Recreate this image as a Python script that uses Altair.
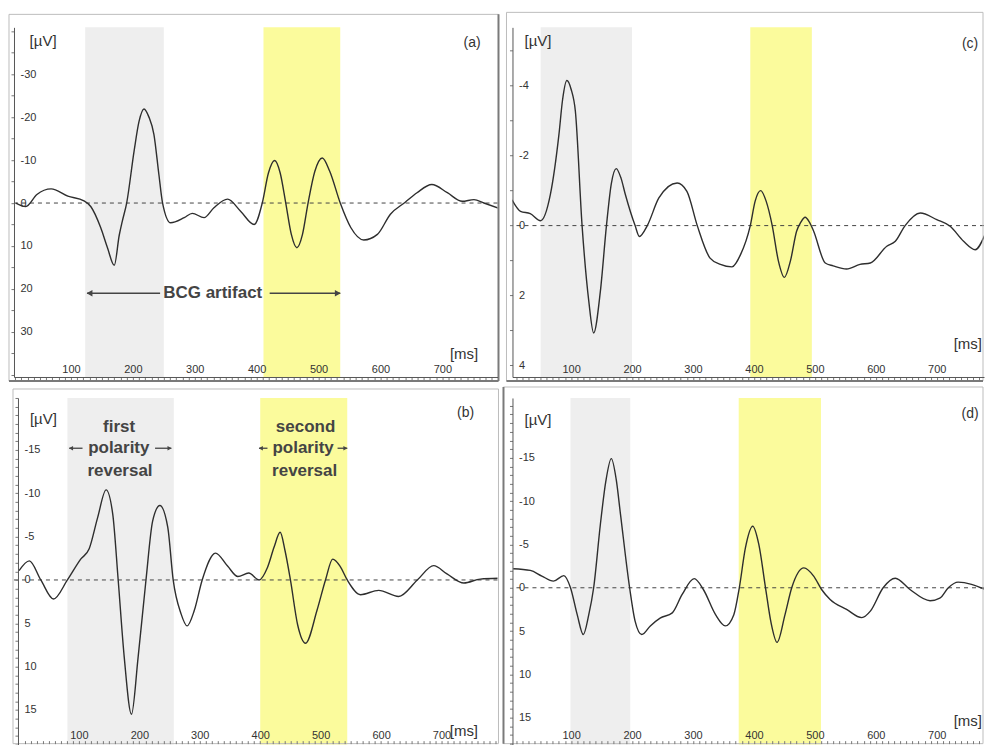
import altair as alt
import pandas as pd

# ---------------- averaged waveforms: latency [ms] / amplitude [µV] ----------------
a_ms = [11, 27, 45, 68, 95, 121, 132, 148, 159, 170, 178, 183, 190, 202, 210, 218, 226, 234, 242, 248,
        261, 283, 296, 315, 331, 353, 374, 396, 409, 419, 429, 438, 447, 456, 465, 474, 483, 494, 506, 518,
        535, 552, 573, 595, 616, 640, 659, 683, 708, 732, 751, 767, 791]
a_uv = [0, 0.8, -2.0, -3.3, -1.6, -0.5, 0.8, 5.7, 10.4, 14.5, 7.5, 4.2, 0, -12.1, -19, -21.9, -20, -16, -6.7, 0,
        4.6, 3.4, 2.4, 3.4, 1.1, -0.9, 1.9, 5.0, 0, -7, -9.9, -7, 0, 7.3, 10.4, 7.3, 0, -7.4, -10.5, -7.4,
        0, 5.7, 8.6, 7.3, 2.6, -0.2, -2.4, -4.3, -2.4, -0.4, -0.8, 0, 1.2]

c_ms = [3, 17, 33, 50, 66, 80, 86, 93, 100, 107, 118, 129, 137, 148, 158, 166, 174, 182, 189, 205,
        212, 225, 244, 274, 290, 307, 328, 345, 364, 378, 394, 402, 411, 420, 430, 440, 450, 460, 470, 477,
        484, 491, 498, 517, 530, 552, 574, 591, 618, 632, 648, 673, 700, 722, 744, 763, 779]
c_uv = [-0.74, -0.41, -0.34, -0.14, -0.89, -2.6, -3.6, -4.15, -3.9, -3.27, 0, 2.16, 3.07, 1.88, 0, -1.2, -1.63, -1.35, -0.89, 0,
        0.31, 0, -0.79, -1.22, -0.98, 0, 0.93, 1.11, 1.18, 0.83, 0, -0.7, -1.0, -0.7, 0, 1.0, 1.48, 1.0, 0.16, -0.1,
        -0.24, -0.1, 0.16, 1.07, 1.15, 1.24, 1.11, 1.07, 0.59, 0.45, 0, -0.36, -0.17, 0.02, 0.45, 0.69, 0.26]

b_ms = [1, 18, 37, 58, 81, 103, 117, 131, 145, 156, 165, 175, 187, 198, 211, 222, 234, 247, 256, 269,
        279, 291, 304, 326, 346, 363, 381, 398, 412, 423, 433, 441, 450, 462, 475, 494, 508, 520, 532, 544,
        566, 596, 629, 660, 687, 709, 737, 764, 797]
b_uv = [-1.07, -2.2, 0, 2.2, 0, -2.4, -3.6, -7.2, -10.4, -7.6, 0, 8.9, 15.5, 8.9, 0, -6.8, -8.6, -6.1, 0, 3.9,
        5.3, 3.5, 0, -3.1, -1.6, -0.4, -0.8, 0, -1.45, -3.8, -5.5, -3.4, 0, 5.2, 7.3, 3.5, 0, -2.4, -1.6, 0,
        1.7, 1.2, 1.9, 0, -1.65, -0.7, 0.35, -0.1, -0.2]

d_ms = [5, 33, 52, 71, 88, 99, 110, 120, 129, 137, 148, 157, 166, 174, 181, 196, 205, 216, 230, 246,
        266, 282, 302, 317, 337, 353, 367, 376, 386, 398, 408, 419, 428, 438, 451, 462, 482, 498, 511, 525,
        552, 577, 591, 612, 632, 656, 689, 705, 719, 735, 757, 779]
d_uv = [-2.2, -2.0, -1.35, -0.77, -1.4, 0, 3.1, 5.4, 3.1, 0, -7.3, -12.3, -14.9, -12.5, -8.5, 0, 3.85, 5.4, 4.4, 3.5,
        2.9, 0.8, -1.05, 0.2, 3.1, 4.4, 3.1, 0, -4.6, -7.1, -5.0, 0, 4.0, 6.3, 3.1, 0, -2.3, -1.35, 0.2, 1.35,
        2.5, 3.45, 2.7, 0, -1.1, 0.2, 1.5, 1.2, 0, -0.65, -0.4, 0.2]

# shaded latency windows [start, end] in ms: first / second polarity reversal
a_windows = [[123, 250], [411, 535]]
c_windows = [[50, 200], [394, 495]]
b_windows = [[81, 257], [400, 544]]
d_windows = [[99, 197], [375, 510]]

FONT = "Liberation Sans"
INK = "#2e2e2e"
GRAY_BAND = "#eeeeee"
YELLOW_BAND = "#fbfb9c"
FRAME = "#bdbdbd"
FRAME_DARK = "#7a7a7a"

COL_W = [484, 472]
ROW_H = [350, 347]


def x_axis(dom, offset, label_pad, domain_line):
    vals = [v for v in range(10, 800, 10) if dom[0] <= v <= dom[1]]
    return alt.Axis(
        values=vals,
        labelExpr="datum.value % 100 === 0 ? '' + datum.value : ''",
        title=None, grid=False, domain=domain_line, domainColor="#555555",
        tickColor="#777777", tickSize=3, offset=offset, zindex=1,
        labelPadding=label_pad, labelBaseline="middle", labelAlign="center",
        labelFont=FONT, labelFontSize=11, labelColor="#333333",
        labelFlush=False, labelOverlap=False,
    )


def y_axis(vals, every, limit, offset):
    return alt.Axis(
        values=vals,
        labelExpr=f"datum.value % {every} === 0 && abs(datum.value) <= {limit} ? '' + datum.value : ''",
        title=None, grid=False, domainColor="#555555", tickColor="#777777",
        tickSize=3, offset=offset, zindex=1, labelPadding=-9, labelAlign="left",
        labelBaseline="middle", labelFont=FONT, labelFontSize=11,
        labelColor="#333333", labelFlush=False, labelOverlap=False,
    )


def one_row():
    return pd.DataFrame({"k": [0]})


def panel(p):
    W, H = p["size"]
    xs = alt.Scale(domain=p["xdom"], nice=False, zero=False)
    ys = alt.Scale(domain=p["ydom"], nice=False, zero=False, reverse=True)
    ax = x_axis(p["xdom"], p["xoff"], p["xpad"], p["xline"])
    ay = y_axis(p["yvals"], p["yevery"], p["ylimit"], p["yoff"])

    def X(field):
        return alt.X(field, scale=xs, axis=ax)

    def Y(field):
        return alt.Y(field, scale=ys, axis=ay)

    win = pd.DataFrame({
        "start": [w[0] for w in p["windows"]],
        "end": [w[1] for w in p["windows"]],
        "kind": ["first", "second"],
    })
    bands = alt.Chart(win).mark_rect().encode(
        x=X("start:Q"),
        x2="end:Q",
        color=alt.Color("kind:N", scale=alt.Scale(domain=["first", "second"],
                                                   range=[GRAY_BAND, YELLOW_BAND]), legend=None),
    )

    zero = alt.Chart(pd.DataFrame({"uv": [0]})).mark_rule(
        color="#444444", strokeDash=[4, 4], strokeWidth=1
    ).encode(y=Y("uv:Q"))

    wave = alt.Chart(pd.DataFrame({"ms": p["ms"], "uv": p["uv"]})).mark_line(
        interpolate="monotone", color=INK, strokeWidth=1.4, clip=True
    ).encode(x=X("ms:Q"), y=Y("uv:Q"))

    small = alt.Chart(pd.DataFrame(p["notes"], columns=["ms", "uv", "txt", "fs"])).mark_text(
        font=FONT, color="#333333", baseline="middle", align="center"
    ).encode(
        x=X("ms:Q"), y=Y("uv:Q"),
        text="txt:N",
        size=alt.Size("fs:Q", scale=None, legend=None),
    )

    fl, fr, ft, fb = p["frame"]
    frame = alt.Chart(one_row()).mark_rect(
        fillOpacity=0, stroke=FRAME, strokeWidth=1
    ).encode(x=alt.value(fl), x2=alt.value(W + fr), y=alt.value(ft), y2=alt.value(H + fb))

    layers = [bands, zero, wave, small, frame]

    for edge in p["dark"]:
        if edge == "right":
            e = alt.Chart(one_row()).mark_rule(color=FRAME_DARK, strokeWidth=2).encode(
                x=alt.value(W + fr), y=alt.value(ft), y2=alt.value(H + fb))
        elif edge == "left":
            e = alt.Chart(one_row()).mark_rule(color=FRAME_DARK, strokeWidth=2).encode(
                x=alt.value(fl), y=alt.value(ft), y2=alt.value(H + fb))
        else:
            e = alt.Chart(one_row()).mark_rule(color=FRAME_DARK, strokeWidth=2).encode(
                x=alt.value(fl), x2=alt.value(W + fr), y=alt.value(H + fb))
        layers.append(e)

    if p.get("bold"):
        bold = alt.Chart(pd.DataFrame(p["bold"], columns=["ms", "uv", "txt"])).mark_text(
            font=FONT, fontSize=17, fontWeight="bold", color="#444444",
            baseline="middle", align="center"
        ).encode(x=X("ms:Q"), y=Y("uv:Q"), text="txt:N")
        shafts = alt.Chart(pd.DataFrame(p["shafts"], columns=["ms", "ms2", "uv"])).mark_rule(
            color="#444444", strokeWidth=1.3
        ).encode(x=X("ms:Q"), x2="ms2:Q", y=Y("uv:Q"))
        heads = alt.Chart(pd.DataFrame(p["heads"], columns=["ms", "uv", "dir"])).mark_point(
            filled=True, color="#444444", opacity=1, size=p["head_size"]
        ).encode(
            x=X("ms:Q"), y=Y("uv:Q"),
            shape=alt.Shape("dir:N", scale=alt.Scale(domain=["left", "right"],
                                                    range=["triangle-left", "triangle-right"]),
                            legend=None),
        )
        layers += [shafts, heads, bold]

    return alt.layer(*layers).properties(width=W, height=H)


panel_a = panel({
    "size": (COL_W[0], ROW_H[0]), "ms": a_ms, "uv": a_uv, "windows": a_windows,
    "xdom": [8, 789], "ydom": [-40.9, 40.5],
    "xoff": 0, "xpad": -11, "xline": True,
    "yvals": list(range(-40, 41, 5)), "yevery": 10, "ylimit": 30, "yoff": 0,
    "notes": [[55, -37.7, "[µV]", 15], [748, -37.2, "(a)", 14], [735, 35.1, "[ms]", 15]],
    "frame": (-5, 1, -13, 4), "dark": ["right", "bottom"],
    "bold": [[329, 20.9, "BCG artifact"]],
    "shafts": [[126, 244, 21.0], [421, 535, 21.0]],
    "heads": [[130, 21.0, "left"], [531, 21.0, "right"]], "head_size": 45,
})

panel_c = panel({
    "size": (COL_W[1], ROW_H[0]), "ms": c_ms, "uv": c_uv, "windows": c_windows,
    "xdom": [3.8, 777.5], "ydom": [-5.67, 4.33],
    "xoff": 0, "xpad": -11, "xline": True,
    "yvals": list(range(-5, 5)), "yevery": 2, "ylimit": 4, "yoff": 0,
    "notes": [[45.6, -5.27, "[µV]", 15], [754.6, -5.19, "(c)", 14], [751, 3.4, "[ms]", 15]],
    "frame": (-6, -1, -15, 4), "dark": ["bottom"],
})

panel_b = panel({
    "size": (COL_W[0], ROW_H[1]), "ms": b_ms, "uv": b_uv, "windows": b_windows,
    "xdom": [-7.4, 792.6], "ydom": [-21.0, 19.0],
    "xoff": -4, "xpad": -8, "xline": False,
    "yvals": list(range(-21, 20)), "yevery": 5, "ylimit": 15, "yoff": -4,
    "notes": [[41.3, -18.6, "[µV]", 15], [739.7, -19.3, "(b)", 14], [737, 17.4, "[ms]", 15]],
    "frame": (-1, 1, -9, -1), "dark": [],
    "bold": [[166.6, -17.6, "first"], [166, -15.2, "polarity"], [168, -12.6, "reversal"],
             [475, -17.6, "second"], [471, -15.2, "polarity"], [473.5, -12.6, "reversal"]],
    "shafts": [[84, 106, -15.2], [226, 253, -15.2], [398, 412, -15.2], [528, 544, -15.2]],
    "heads": [[87, -15.2, "left"], [250, -15.2, "right"], [401, -15.2, "left"], [541, -15.2, "right"]],
    "head_size": 22,
})

panel_d = panel({
    "size": (COL_W[1], ROW_H[1]), "ms": d_ms, "uv": d_uv, "windows": d_windows,
    "xdom": [3.8, 777.5], "ydom": [-21.9, 18.1],
    "xoff": -4, "xpad": -8, "xline": False,
    "yvals": list(range(-21, 19)), "yevery": 5, "ylimit": 15, "yoff": 0,
    "notes": [[45.6, -19.4, "[µV]", 15], [754.6, -20.1, "(d)", 14], [751, 15.4, "[ms]", 15]],
    "frame": (-9, -1, -11, -1), "dark": ["left"],
})

chart = alt.concat(
    panel_a, panel_c, panel_b, panel_d,
    columns=2, spacing={"row": 21, "column": 15}, bounds="flush",
).properties(
    padding={"left": 8, "top": 11, "right": 0, "bottom": 0},
    background="white",
).configure_view(strokeWidth=0)

chart.save("out.html", embed_options={"renderer": "svg", "actions": False})
